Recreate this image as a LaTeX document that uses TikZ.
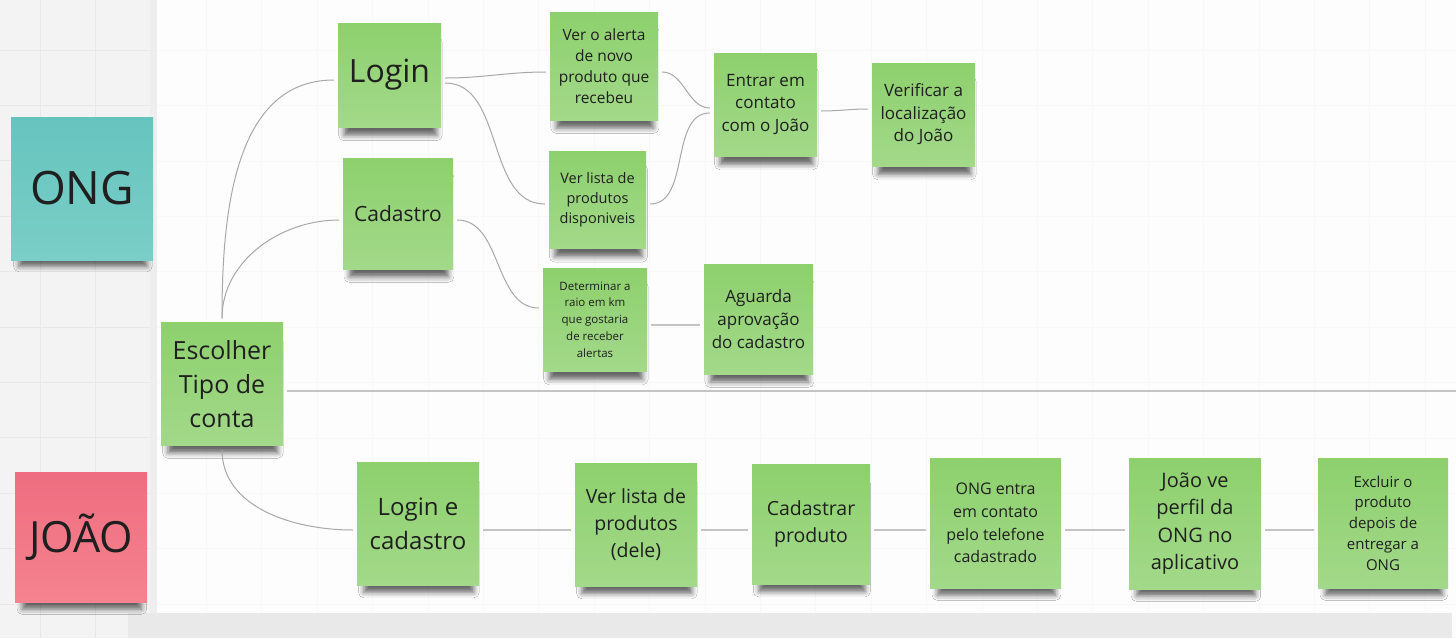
\documentclass[tikz,border=0pt]{standalone}
\usepackage{fontspec}
\setmainfont{Open Sans}
\usetikzlibrary{shadows.blur}

\definecolor{notegreen}{HTML}{8DD06D}
\definecolor{notegreenlt}{HTML}{A3D98A}
\definecolor{noteteal}{HTML}{66C4BE}
\definecolor{notetealpale}{HTML}{7ACEC7}
\definecolor{notepink}{HTML}{EE6D80}
\definecolor{notepinkpale}{HTML}{F5838F}
\definecolor{linkgray}{HTML}{A8A8A8}
\definecolor{lanegray}{HTML}{C4C4C4}
\definecolor{inkdark}{HTML}{1F1F1F}
\definecolor{canvasbg}{HTML}{FDFDFD}
\definecolor{sidebg}{HTML}{F3F3F3}
\definecolor{sideband}{HTML}{EEEEEE}
\definecolor{stripbg}{HTML}{E9E9E9}
\definecolor{gridside}{HTML}{E8E8E8}
\definecolor{gridcanvas}{HTML}{F8F8F8}

\newcommand{\fsz}[2]{\fontsize{#1}{#2}\selectfont}

\tikzset{
  notesize/.style 2 args={minimum width=#1pt, minimum height=#2pt},
  sticky/.style={rectangle, inner sep=2pt, align=center, text=inkdark,
    top color=notegreen, bottom color=notegreenlt,
    blur shadow={shadow xshift=1pt, shadow yshift=-15pt, shadow scale=0.9,
      shadow opacity=60, shadow blur radius=6pt}},
  ongnote/.style={sticky, top color=noteteal, bottom color=notetealpale},
  joaonote/.style={sticky, top color=notepink, bottom color=notepinkpale},
  link/.style={draw=linkgray, line width=1pt, shorten <=4pt, shorten >=4pt},
  lane/.style={link, draw=lanegray, line width=1.4pt},
}

\begin{document}
\begin{tikzpicture}[x=1pt, y=-1pt]

\useasboundingbox (0,0) rectangle (1456,638);

% board background
\fill[canvasbg] (0,0) rectangle (1456,638);
\foreach \gx in {0,...,25}
  \draw[gridcanvas, line width=0.5pt] ({40+55.4*\gx},0) -- ++(0,638);
\foreach \gy in {1,...,11}
  \draw[gridcanvas, line width=0.5pt] (0,{-5.4+55.4*\gy}) -- ++(1456,0);
\begin{scope}
  \clip (0,0) rectangle (150,638);
  \fill[sidebg] (0,0) rectangle (150,638);
  \foreach \gx in {0,1}
    \draw[gridside, line width=0.8pt] ({40+55.4*\gx},0) -- ++(0,638);
  \foreach \gy in {1,...,11}
    \draw[gridside, line width=0.8pt] (0,{-5.4+55.4*\gy}) -- ++(150,0);
\end{scope}
\fill[sideband] (150,0) rectangle (157,613);
\fill[stripbg] (128,613) rectangle (1452,638);

% roles
\node[ongnote, notesize={142}{143}, font=\fsz{46}{50}] (ong) at (82,188.5) {ONG};
\node[joaonote, notesize={132}{130}, font=\fsz{43}{48}] (joao) at (81,537) {JOÃO};

% notes
\node[sticky, notesize={122}{123}, font=\fsz{25}{34}] (escolher) at (222,384) {Escolher\\Tipo de\\conta};
\node[sticky, notesize={103}{104}, font=\fsz{32}{36}] (login) at (389.5,75) {Login};
\node[sticky, notesize={110}{111}, font=\fsz{21}{26}] (cadastro) at (398,213.5) {Cadastro};
\node[sticky, notesize={108}{108}, font=\fsz{15.5}{21}] (alerta) at (604,66) {Ver o alerta\\de novo\\produto que\\recebeu};
\node[sticky, notesize={97}{97}, font=\fsz{14.5}{20}] (listadisp) at (597.5,199.5) {Ver lista de\\produtos\\disponiveis};
\node[sticky, notesize={104}{103}, font=\fsz{11.5}{16.7}] (raio) at (595,319.5) {Determinar a\\raio em km\\que gostaria\\de receber\\alertas};
\node[sticky, notesize={109}{110}, font=\fsz{17}{22.7}] (aguarda) at (758.5,319) {Aguarda\\aprovação\\do cadastro};
\node[sticky, notesize={103}{103}, font=\fsz{17}{22.5}] (contato) at (765.5,104.5) {Entrar em\\contato\\com o João};
\node[sticky, notesize={103}{103}, font=\fsz{17}{22.5}] (localiza) at (923.5,114.5) {Verificar a\\localização\\do João};
\node[sticky, notesize={122}{123}, font=\fsz{24}{34}] (logincad) at (418,523.5) {Login e\\cadastro};
\node[sticky, notesize={122}{123}, font=\fsz{19.5}{27}] (listadele) at (636,524.5) {Ver lista de\\produtos\\(dele)};
\node[sticky, notesize={118}{120}, font=\fsz{19.5}{27}] (cadprod) at (811,524) {Cadastrar\\produto};
\node[sticky, notesize={131}{130}, font=\fsz{16}{22.7}] (ongentra) at (995.5,523) {ONG entra\\em contato\\pelo telefone\\cadastrado};
\node[sticky, notesize={132}{131}, font=\fsz{20}{27.5}] (joaove) at (1195,523.5) {João ve\\perfil da\\ONG no\\aplicativo};
\node[sticky, notesize={130}{130}, font=\fsz{15}{20.7}] (excluir) at (1383,523) {Excluir o\\produto\\depois de\\entregar a\\ONG};

\coordinate (laneend) at (1456,391);

% connectors
\draw[link] (escolher.north) to[out=90, in=180] ([yshift=-5pt]login.west);
\draw[link] (escolher.north) to[out=90, in=180] ([yshift=-6.5pt]cadastro.west);
\draw[link] (escolher.south) to[out=-90, in=180] ([yshift=-6.5pt]logincad.west);
\draw[lane, shorten >=0pt] ([yshift=-7pt]escolher.east) -- (laneend);
\draw[link] ([yshift=-3pt]login.east) to[out=0, in=180] ([yshift=-6pt]alerta.west);
\draw[link] ([yshift=-8pt]login.east) to[out=0, in=180] ([yshift=-4.5pt]listadisp.west);
\draw[link] ([yshift=-6pt]alerta.east) to[out=0, in=180] ([yshift=-3.5pt]contato.west);
\draw[link] ([yshift=-4.5pt]listadisp.east) to[out=0, in=180] ([yshift=-8.5pt]contato.west);
\draw[link] ([yshift=-6.5pt]contato.east) to[out=0, in=180] ([yshift=5.5pt]localiza.west);
\draw[link] ([yshift=-6.5pt]cadastro.east) to[out=0, in=180] ([yshift=11.5pt]raio.west);
\draw[lane] ([yshift=-5.5pt]raio.east) -- ([yshift=-6pt]aguarda.west);
\draw[lane] ([yshift=-6.5pt]logincad.east) -- ([yshift=-5.5pt]listadele.west);
\draw[lane] ([yshift=-5.5pt]listadele.east) -- ([yshift=-6pt]cadprod.west);
\draw[lane] ([yshift=-6pt]cadprod.east) -- ([yshift=-7pt]ongentra.west);
\draw[lane] ([yshift=-7pt]ongentra.east) -- ([yshift=-6.5pt]joaove.west);
\draw[lane] ([yshift=-6.5pt]joaove.east) -- ([yshift=-7pt]excluir.west);

\end{tikzpicture}
\end{document}
